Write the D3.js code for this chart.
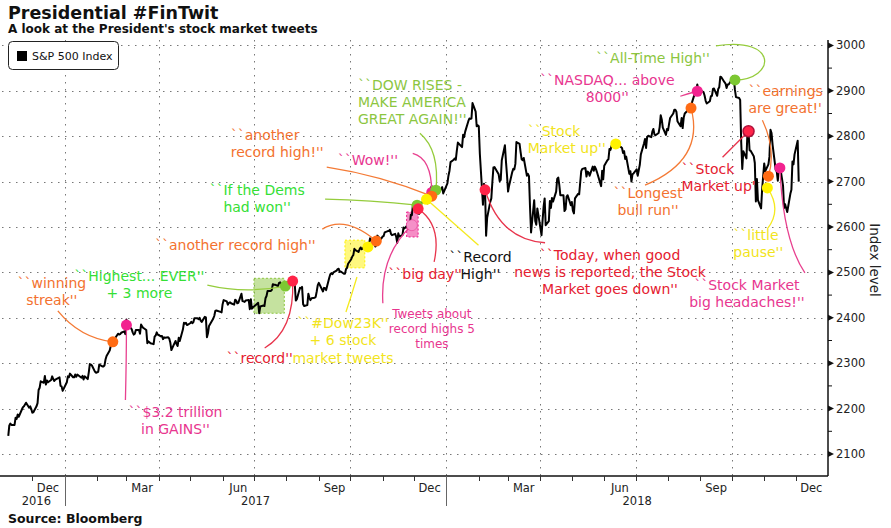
<!DOCTYPE html>
<html>
<head>
<meta charset="utf-8">
<script src="https://cdn.jsdelivr.net/npm/d3@7"></script>
<style>
  body { margin: 0; background: #fff; }
  svg { display: block; font-family: "DejaVu Sans", Verdana, sans-serif; }
  .grid line { stroke: #777; stroke-width: 1; stroke-dasharray: 1.5 5.5; }
  .tick-label { font-size: 11.5px; fill: #222; }
  .note { font-size: 14px; }
</style>
</head>
<body>
<svg id="chart" width="891" height="528"></svg>
<script>
// S&P 500 daily closes
const spxCloses = [
["2016-11-08",2140],["2016-11-09",2163],["2016-11-10",2167],["2016-11-11",2164],["2016-11-14",2164],["2016-11-15",2180],["2016-11-16",2177],["2016-11-17",2187],["2016-11-18",2182],
["2016-11-21",2198],["2016-11-22",2203],["2016-11-23",2205],["2016-11-25",2213],["2016-11-28",2202],["2016-11-29",2205],["2016-11-30",2199],["2016-12-01",2191],["2016-12-02",2192],
["2016-12-05",2205],["2016-12-06",2212],["2016-12-07",2241],["2016-12-08",2246],["2016-12-09",2260],["2016-12-12",2257],["2016-12-13",2272],["2016-12-14",2253],["2016-12-15",2262],
["2016-12-16",2258],["2016-12-19",2263],["2016-12-20",2271],["2016-12-21",2265],["2016-12-22",2261],["2016-12-23",2264],["2016-12-27",2269],["2016-12-28",2250],["2016-12-29",2249],
["2016-12-30",2239],["2017-01-03",2258],["2017-01-04",2271],["2017-01-05",2269],["2017-01-06",2277],["2017-01-09",2269],["2017-01-10",2269],["2017-01-11",2275],["2017-01-12",2270],
["2017-01-13",2275],["2017-01-17",2268],["2017-01-18",2272],["2017-01-19",2264],["2017-01-20",2271],["2017-01-23",2265],["2017-01-24",2280],["2017-01-25",2298],["2017-01-26",2297],
["2017-01-27",2295],["2017-01-30",2281],["2017-01-31",2279],["2017-02-01",2280],["2017-02-02",2281],["2017-02-03",2297],["2017-02-06",2293],["2017-02-07",2293],["2017-02-08",2295],
["2017-02-09",2308],["2017-02-10",2316],["2017-02-13",2328],["2017-02-14",2338],["2017-02-15",2349],["2017-02-16",2347],["2017-02-17",2351],["2017-02-21",2365],["2017-02-22",2363],
["2017-02-23",2364],["2017-02-24",2367],["2017-02-27",2370],["2017-02-28",2364],["2017-03-01",2396],["2017-03-02",2382],["2017-03-03",2383],["2017-03-06",2375],["2017-03-07",2368],
["2017-03-08",2363],["2017-03-09",2365],["2017-03-10",2373],["2017-03-13",2373],["2017-03-14",2365],["2017-03-15",2385],["2017-03-16",2381],["2017-03-17",2378],["2017-03-20",2373],
["2017-03-21",2344],["2017-03-22",2348],["2017-03-23",2346],["2017-03-24",2344],["2017-03-27",2342],["2017-03-28",2359],["2017-03-29",2361],["2017-03-30",2368],["2017-03-31",2363],
["2017-04-03",2359],["2017-04-04",2360],["2017-04-05",2353],["2017-04-06",2357],["2017-04-07",2356],["2017-04-10",2357],["2017-04-11",2354],["2017-04-12",2345],["2017-04-13",2329],
["2017-04-17",2349],["2017-04-18",2342],["2017-04-19",2338],["2017-04-20",2356],["2017-04-21",2349],["2017-04-24",2374],["2017-04-25",2389],["2017-04-26",2387],["2017-04-27",2389],
["2017-04-28",2384],["2017-05-01",2388],["2017-05-02",2391],["2017-05-03",2388],["2017-05-04",2390],["2017-05-05",2399],["2017-05-08",2399],["2017-05-09",2397],["2017-05-10",2400],
["2017-05-11",2394],["2017-05-12",2391],["2017-05-15",2402],["2017-05-16",2401],["2017-05-17",2357],["2017-05-18",2366],["2017-05-19",2382],["2017-05-22",2394],["2017-05-23",2398],
["2017-05-24",2404],["2017-05-25",2415],["2017-05-26",2416],["2017-05-30",2413],["2017-05-31",2412],["2017-06-01",2430],["2017-06-02",2439],["2017-06-05",2436],["2017-06-06",2429],
["2017-06-07",2433],["2017-06-08",2434],["2017-06-09",2432],["2017-06-12",2429],["2017-06-13",2440],["2017-06-14",2438],["2017-06-15",2432],["2017-06-16",2433],["2017-06-19",2453],
["2017-06-20",2437],["2017-06-21",2436],["2017-06-22",2435],["2017-06-23",2438],["2017-06-26",2439],["2017-06-27",2419],["2017-06-28",2441],["2017-06-29",2420],["2017-06-30",2423],
["2017-07-03",2429],["2017-07-05",2433],["2017-07-06",2410],["2017-07-07",2425],["2017-07-10",2427],["2017-07-11",2426],["2017-07-12",2443],["2017-07-13",2448],["2017-07-14",2459],
["2017-07-17",2459],["2017-07-18",2461],["2017-07-19",2474],["2017-07-20",2473],["2017-07-21",2473],["2017-07-24",2470],["2017-07-25",2477],["2017-07-26",2478],["2017-07-27",2475],
["2017-07-28",2472],["2017-07-31",2470],["2017-08-01",2476],["2017-08-02",2478],["2017-08-03",2472],["2017-08-04",2477],["2017-08-07",2481],["2017-08-08",2475],["2017-08-09",2474],
["2017-08-10",2438],["2017-08-11",2441],["2017-08-14",2466],["2017-08-15",2465],["2017-08-16",2468],["2017-08-17",2430],["2017-08-18",2426],["2017-08-21",2428],["2017-08-22",2453],
["2017-08-23",2444],["2017-08-24",2439],["2017-08-25",2443],["2017-08-28",2444],["2017-08-29",2446],["2017-08-30",2458],["2017-08-31",2472],["2017-09-01",2477],["2017-09-05",2458],
["2017-09-06",2466],["2017-09-07",2465],["2017-09-08",2461],["2017-09-11",2488],["2017-09-12",2496],["2017-09-13",2498],["2017-09-14",2496],["2017-09-15",2500],["2017-09-18",2504],
["2017-09-19",2507],["2017-09-20",2508],["2017-09-21",2501],["2017-09-22",2502],["2017-09-25",2497],["2017-09-26",2497],["2017-09-27",2507],["2017-09-28",2510],["2017-09-29",2519],
["2017-10-02",2529],["2017-10-03",2535],["2017-10-04",2538],["2017-10-05",2552],["2017-10-06",2549],["2017-10-09",2545],["2017-10-10",2551],["2017-10-11",2555],["2017-10-12",2551],
["2017-10-13",2553],["2017-10-16",2558],["2017-10-17",2559],["2017-10-18",2561],["2017-10-19",2562],["2017-10-20",2575],["2017-10-23",2565],["2017-10-24",2569],["2017-10-25",2557],
["2017-10-26",2560],["2017-10-27",2581],["2017-10-30",2573],["2017-10-31",2575],["2017-11-01",2579],["2017-11-02",2580],["2017-11-03",2588],["2017-11-06",2591],["2017-11-07",2591],
["2017-11-08",2594],["2017-11-09",2585],["2017-11-10",2582],["2017-11-13",2585],["2017-11-14",2579],["2017-11-15",2565],["2017-11-16",2586],["2017-11-17",2579],["2017-11-20",2582],
["2017-11-21",2599],["2017-11-22",2597],["2017-11-24",2602],["2017-11-27",2601],["2017-11-28",2627],["2017-11-29",2626],["2017-11-30",2648],["2017-12-01",2642],["2017-12-04",2639],
["2017-12-05",2630],["2017-12-06",2629],["2017-12-07",2637],["2017-12-08",2652],["2017-12-11",2660],["2017-12-12",2664],["2017-12-13",2663],["2017-12-14",2652],["2017-12-15",2676],
["2017-12-18",2690],["2017-12-19",2681],["2017-12-20",2679],["2017-12-21",2685],["2017-12-22",2683],["2017-12-26",2681],["2017-12-27",2683],["2017-12-28",2688],["2017-12-29",2674],
["2018-01-02",2696],["2018-01-03",2713],["2018-01-04",2724],["2018-01-05",2743],["2018-01-08",2748],["2018-01-09",2751],["2018-01-10",2748],["2018-01-11",2768],["2018-01-12",2786],
["2018-01-16",2776],["2018-01-17",2803],["2018-01-18",2798],["2018-01-19",2810],["2018-01-22",2833],["2018-01-23",2839],["2018-01-24",2838],["2018-01-25",2839],["2018-01-26",2873],
["2018-01-29",2854],["2018-01-30",2822],["2018-01-31",2824],["2018-02-01",2822],["2018-02-02",2762],["2018-02-05",2649],["2018-02-06",2695],["2018-02-07",2682],["2018-02-08",2581],
["2018-02-09",2620],["2018-02-12",2656],["2018-02-13",2663],["2018-02-14",2699],["2018-02-15",2731],["2018-02-16",2732],["2018-02-20",2716],["2018-02-21",2701],["2018-02-22",2704],
["2018-02-23",2747],["2018-02-26",2780],["2018-02-27",2744],["2018-02-28",2714],["2018-03-01",2678],["2018-03-02",2691],["2018-03-05",2721],["2018-03-06",2728],["2018-03-07",2727],
["2018-03-08",2739],["2018-03-09",2787],["2018-03-12",2783],["2018-03-13",2765],["2018-03-14",2749],["2018-03-15",2747],["2018-03-16",2752],["2018-03-19",2713],["2018-03-20",2717],
["2018-03-21",2712],["2018-03-22",2644],["2018-03-23",2588],["2018-03-26",2659],["2018-03-27",2613],["2018-03-28",2605],["2018-03-29",2641],["2018-04-02",2582],["2018-04-03",2614],
["2018-04-04",2645],["2018-04-05",2663],["2018-04-06",2604],["2018-04-09",2613],["2018-04-10",2657],["2018-04-11",2642],["2018-04-12",2664],["2018-04-13",2656],["2018-04-16",2678],
["2018-04-17",2706],["2018-04-18",2709],["2018-04-19",2693],["2018-04-20",2670],["2018-04-23",2670],["2018-04-24",2635],["2018-04-25",2639],["2018-04-26",2667],["2018-04-27",2670],
["2018-04-30",2648],["2018-05-01",2655],["2018-05-02",2636],["2018-05-03",2630],["2018-05-04",2663],["2018-05-07",2673],["2018-05-08",2672],["2018-05-09",2698],["2018-05-10",2723],
["2018-05-11",2728],["2018-05-14",2730],["2018-05-15",2711],["2018-05-16",2722],["2018-05-17",2720],["2018-05-18",2713],["2018-05-21",2733],["2018-05-22",2724],["2018-05-23",2733],
["2018-05-24",2728],["2018-05-25",2721],["2018-05-29",2690],["2018-05-30",2724],["2018-05-31",2705],["2018-06-01",2735],["2018-06-04",2747],["2018-06-05",2749],["2018-06-06",2772],
["2018-06-07",2770],["2018-06-08",2779],["2018-06-11",2782],["2018-06-12",2787],["2018-06-13",2776],["2018-06-14",2782],["2018-06-15",2780],["2018-06-18",2774],["2018-06-19",2763],
["2018-06-20",2767],["2018-06-21",2750],["2018-06-22",2755],["2018-06-25",2717],["2018-06-26",2723],["2018-06-27",2700],["2018-06-28",2716],["2018-06-29",2718],["2018-07-02",2727],
["2018-07-03",2713],["2018-07-05",2737],["2018-07-06",2760],["2018-07-09",2784],["2018-07-10",2794],["2018-07-11",2774],["2018-07-12",2798],["2018-07-13",2801],["2018-07-16",2798],
["2018-07-17",2810],["2018-07-18",2816],["2018-07-19",2804],["2018-07-20",2802],["2018-07-23",2807],["2018-07-24",2820],["2018-07-25",2846],["2018-07-26",2837],["2018-07-27",2819],
["2018-07-30",2803],["2018-07-31",2816],["2018-08-01",2813],["2018-08-02",2827],["2018-08-03",2840],["2018-08-06",2850],["2018-08-07",2858],["2018-08-08",2858],["2018-08-09",2854],
["2018-08-10",2833],["2018-08-13",2822],["2018-08-14",2840],["2018-08-15",2818],["2018-08-16",2841],["2018-08-17",2850],["2018-08-20",2857],["2018-08-21",2863],["2018-08-22",2862],
["2018-08-23",2857],["2018-08-24",2875],["2018-08-27",2897],["2018-08-28",2898],["2018-08-29",2914],["2018-08-30",2901],["2018-08-31",2902],["2018-09-04",2897],["2018-09-05",2889],
["2018-09-06",2878],["2018-09-07",2872],["2018-09-10",2877],["2018-09-11",2888],["2018-09-12",2889],["2018-09-13",2904],["2018-09-14",2905],["2018-09-17",2889],["2018-09-18",2904],
["2018-09-19",2908],["2018-09-20",2931],["2018-09-21",2930],["2018-09-24",2919],["2018-09-25",2916],["2018-09-26",2906],["2018-09-27",2914],["2018-09-28",2914],["2018-10-01",2925],
["2018-10-02",2923],["2018-10-03",2926],["2018-10-04",2902],["2018-10-05",2886],["2018-10-08",2884],["2018-10-09",2880],["2018-10-10",2786],["2018-10-11",2728],["2018-10-12",2767],
["2018-10-15",2751],["2018-10-16",2810],["2018-10-17",2809],["2018-10-18",2769],["2018-10-19",2768],["2018-10-22",2756],["2018-10-23",2741],["2018-10-24",2656],["2018-10-25",2706],
["2018-10-26",2659],["2018-10-29",2641],["2018-10-30",2683],["2018-10-31",2712],["2018-11-01",2740],["2018-11-02",2723],["2018-11-05",2738],["2018-11-06",2755],["2018-11-07",2814],
["2018-11-08",2807],["2018-11-09",2781],["2018-11-12",2726],["2018-11-13",2722],["2018-11-14",2702],["2018-11-15",2730],["2018-11-16",2736],["2018-11-19",2691],["2018-11-20",2642],
["2018-11-21",2650],["2018-11-23",2633],["2018-11-26",2673],["2018-11-27",2682],["2018-11-28",2744],["2018-11-29",2738],["2018-11-30",2760],["2018-12-03",2790],["2018-12-04",2700]
];

const yTicks = [2100, 2200, 2300, 2400, 2500, 2600, 2700, 2800, 2900, 3000];
const monthLabels = ["Dec", "Mar", "Jun", "Sep", "Dec", "Mar", "Jun", "Sep", "Dec"];
const monthLabelDates = ["2016-12-16", "2017-03-16", "2017-06-16", "2017-09-16", "2017-12-16", "2018-03-16", "2018-06-16", "2018-09-16", "2018-12-16"];
const yearLabels = ["2016", "2017", "2018"];
const yearSpans = [["2016-11-02", "2017-01-01"], ["2017-01-01", "2018-01-01"], ["2018-01-01", "2019-01-01"]];

// tweets: date of the dot, index level of the dot, label
const tweetDates = ["2017-02-16", "2017-03-01", "2017-07-31", "2017-08-07", "2017-10-18", "2017-10-26", "2017-11-29",
  "2017-12-04", "2017-12-18", "2017-12-18", "2017-12-22", "2017-12-13", "2017-12-05", "2018-02-07", "2018-06-12",
  "2018-08-23", "2018-08-29", "2018-10-04", "2018-10-17", "2018-11-05", "2018-11-04", "2018-11-16"];
const tweetLevels = [2347, 2384, 2470, 2481, 2556, 2569, 2604, 2648, 2676, 2668, 2681, 2661, 2640, 2682, 2783,
  2862, 2899, 2924, 2811, 2712, 2686, 2730];
const tweetTexts = [
  ["``winning", "streak''"],
  ["``$3.2 trillion", "in GAINS''"],
  ["``Highest... EVER''", "+ 3 more"],
  ["``record''"],
  ["``#Dow23K''", "+ 6 stock", "market tweets"],
  ["``another record high''"],
  ["Tweets about", "record highs 5", "times"],
  ["``If the Dems", "had won''"],
  ["``Wow!''"],
  ["``another", "record high!''"],
  ["``DOW RISES -", "MAKE AMERICA", "GREAT AGAIN!''"],
  ["``Record", "High''"],
  ["``big day''"],
  ["``Today, when good", "news is reported, the Stock", "Market goes down''"],
  ["``Stock", "Market up''"],
  ["``Longest", "bull run''"],
  ["``NASDAQ... above", "8000''"],
  ["``All-Time High''"],
  ["``Stock", "Market up'"],
  ["``earnings", "are great!'"],
  ["``little", "pause''"],
  ["``Stock Market", "big headaches!''"]
];

// highlighted tweet clusters: date span and level span
const clusterSpans = [["2017-07-01", "2017-07-30"], ["2017-09-26", "2017-10-15"], ["2017-11-24", "2017-12-05"]];
const clusterLevels = [[2410, 2487], [2510, 2571], [2578, 2633]];

// layout / styling of the annotations (offsets relative to the dot)
const palette = {
  orange: { dot: "#ff6b14", text: "#f3722f", lead: "#f47a35" },
  pink:   { dot: "#f2228f", text: "#e8368f", lead: "#e8408f" },
  green:  { dot: "#7dc832", text: "#35e035", lead: "#95cc3c" },
  lime:   { dot: "#7dc832", text: "#8cc63f", lead: "#95cc3c" },
  yellow: { dot: "#fff200", text: "#f2e41c", lead: "#f5ea1e" },
  red:    { dot: "#ff2448", text: "#e52030", lead: "#e8344c" },
  black:  { dot: "#fff200", text: "#111111", lead: "#f5ea1e" }
};
const noteLayout = [
  { c: "orange", dx: -61, dy: -54, a: "middle", lead: [-55, -31, -33, -4] },
  { c: "pink", dx: 49, dy: 92, a: "middle", lead: [-1, 75, 0, 35] },
  { c: "green", dx: -146, dy: -5, a: "middle", lead: [-78, -1, -40, 8] },
  { c: "red", dx: -33, dy: 82, a: "middle", lead: [-28, 67, 2, 49] },
  { c: "yellow", dx: -25, dy: 81, a: "middle", lh: 17.5, lead: [-22, 65, -16, 47, -11, 30] },
  { c: "orange", dx: -141, dy: 9, a: "middle", lead: [-54, -12, -31, -26] },
  { c: "pink", dx: 20, dy: 93, a: "middle", fs: 12, lh: 15, lead: [-29, 78, -32, 30] },
  { c: "green", dx: -160, dy: -10, a: "middle", lead: [-92, -6, -47, -5] },
  { c: "pink", dx: -94, dy: -27, a: "start", lead: [-19, -39, 0, -34] },
  { c: "orange", dx: -201, dy: -56, a: "start", lead: [-105, -29, -52, -21] },
  { c: "lime", dx: -78, dy: -100, a: "start", lead: [-16, -57, 4, -40] },
  { c: "black", dx: 54, dy: 63, a: "middle", lead: [52, 46, 26, 23] },
  { c: "red", dx: 7, dy: 70, a: "middle", lead: [16, 53, 24, 16] },
  { c: "red", dx: 125, dy: 70, a: "middle", lead: [60, 53, 15, 50] },
  { c: "yellow", dx: -88, dy: -8, a: "start", lead: null },
  { c: "orange", dx: -43, dy: 90, a: "middle", lead: [-46, 77, 14, 52] },
  { c: "pink", dx: -90, dy: -6, a: "middle", lead: [-17, 5, -8, 2] },
  { c: "lime", dx: -82, dy: -17, a: "middle", cubic: [-19, -34, 45, -44, 40, 0] },
  { c: "red", dx: -67, dy: 43, a: "start", ringed: true, lead: [-26, 26, -13, 13] },
  { c: "orange", dx: -20, dy: -80, a: "start", lead: [-6, -56, 8, -26] },
  { c: "yellow", dx: -34, dy: 52, a: "start", lead: [0, 41, 15, 22] },
  { c: "pink", dx: -33, dy: 122, a: "middle", lead: [25, 105, 3, 72] }
];
const dotOrder = [0, 1, 2, 3, 4, 5, 8, 10, 9, 11, 7, 12, 13, 14, 15, 16, 17, 18, 19, 20, 21];
const clusterColors = ["#8cc63f", "#fff200", "#ec1c8c"];

const svg = d3.select("#chart");
const parse = d3.timeParse("%Y-%m-%d");
const plotTop = 40, plotBottom = 476, plotLeft = 2, plotRight = 828;

const x = d3.scaleTime()
  .domain([parse("2016-11-02"), parse("2019-01-01")])
  .range([plotLeft, plotRight]);
const y = d3.scaleLinear().domain([2100, 3000]).range([454, 45.4]);

const series = spxCloses.map(d => ({ date: parse(d[0]), value: d[1] }));

// titles
svg.append("text").attr("x", 8).attr("y", 19)
  .style("font-weight", "bold").style("font-size", "17.5px").attr("fill", "#111")
  .text("Presidential #FinTwit");
svg.append("text").attr("x", 8).attr("y", 33)
  .style("font-weight", "bold").style("font-size", "12px").attr("fill", "#111")
  .text("A look at the President's stock market tweets");
svg.append("text").attr("x", 8).attr("y", 523)
  .style("font-weight", "bold").style("font-size", "12.5px").attr("fill", "#111")
  .text("Source: Bloomberg");

// grid
const grid = svg.append("g").attr("class", "grid");
grid.selectAll(".h").data(yTicks).enter().append("line")
  .attr("x1", plotLeft).attr("x2", plotRight)
  .attr("y1", d => Math.round(y(d)) + 0.5).attr("y2", d => Math.round(y(d)) + 0.5);
const quarterStarts = d3.timeMonth.every(3).range(parse("2017-01-01"), parse("2019-01-01"));
grid.selectAll(".v").data(quarterStarts).enter().append("line")
  .attr("y1", plotTop).attr("y2", plotBottom)
  .attr("x1", d => Math.round(x(d)) + 0.5).attr("x2", d => Math.round(x(d)) + 0.5);

// bottom axis
svg.append("line").attr("x1", 0).attr("x2", plotRight).attr("y1", plotBottom).attr("y2", plotBottom)
  .attr("stroke", "#111").attr("stroke-width", 1.5);
const months = d3.timeMonth.range(parse("2016-12-01"), parse("2019-01-01"));
svg.selectAll(".mtick").data(months).enter().append("line")
  .attr("x1", d => Math.round(x(d)) + 0.5).attr("x2", d => Math.round(x(d)) + 0.5)
  .attr("y1", plotBottom).attr("y2", plotBottom + 5)
  .attr("stroke", "#333").attr("stroke-width", 1);
svg.selectAll(".mlab").data(monthLabels).enter().append("text")
  .attr("class", "tick-label").attr("text-anchor", "middle")
  .attr("x", (d, i) => x(parse(monthLabelDates[i]))).attr("y", 492)
  .text(d => d);
svg.selectAll(".ysep").data(yearSpans.slice(1)).enter().append("line")
  .attr("x1", d => Math.round(x(parse(d[0]))) + 0.5).attr("x2", d => Math.round(x(parse(d[0]))) + 0.5)
  .attr("y1", plotBottom).attr("y2", 506).attr("stroke", "#666").attr("stroke-width", 1);
svg.selectAll(".ylab").data(yearLabels).enter().append("text")
  .attr("class", "tick-label").attr("text-anchor", "middle")
  .attr("x", (d, i) => (x(parse(yearSpans[i][0])) + x(parse(yearSpans[i][1]))) / 2 + (i === 0 ? 3 : 0))
  .attr("y", 505).text(d => d);

// right axis
svg.append("line").attr("x1", plotRight).attr("x2", plotRight).attr("y1", plotTop).attr("y2", plotBottom)
  .attr("stroke", "#111").attr("stroke-width", 1.5);
const minorTicks = d3.range(2150, 3000, 100);
svg.selectAll(".minor").data(minorTicks).enter().append("line")
  .attr("x1", plotRight).attr("x2", plotRight + 4)
  .attr("y1", d => y(d)).attr("y2", d => y(d)).attr("stroke", "#111");
svg.selectAll(".major").data(yTicks).enter().append("path")
  .attr("d", d => `M${plotRight},${y(d) - 3}L${plotRight + 6},${y(d)}L${plotRight},${y(d) + 3}Z`)
  .attr("fill", "#111");
svg.selectAll(".ylabel").data(yTicks).enter().append("text")
  .attr("class", "tick-label").attr("x", 836).attr("y", d => y(d) + 4).text(d => d);
svg.append("text").attr("transform", "translate(870,260) rotate(90)")
  .attr("text-anchor", "middle").style("font-size", "13.5px").attr("fill", "#222")
  .text("Index level");

// legend
svg.append("rect").attr("x", 8.5).attr("y", 41.5).attr("width", 110).attr("height", 28).attr("rx", 4)
  .attr("fill", "#fff").attr("stroke", "#222");
svg.append("rect").attr("x", 17).attr("y", 51).attr("width", 10).attr("height", 10).attr("fill", "#000");
svg.append("text").attr("x", 32).attr("y", 60).style("font-size", "11px").attr("fill", "#111")
  .text("S&P 500 Index");

// highlighted clusters
svg.selectAll(".cluster").data(clusterSpans).enter().append("rect")
  .attr("x", d => x(parse(d[0]))).attr("width", d => x(parse(d[1])) - x(parse(d[0])))
  .attr("y", (d, i) => y(clusterLevels[i][1]))
  .attr("height", (d, i) => y(clusterLevels[i][0]) - y(clusterLevels[i][1]))
  .attr("fill", (d, i) => clusterColors[i]).attr("fill-opacity", 0.5)
  .attr("stroke", (d, i) => clusterColors[i]).attr("stroke-dasharray", "2 2");

// index line
const line = d3.line().x(d => x(d.date)).y(d => y(d.value));
svg.append("path").datum(series).attr("d", line)
  .attr("fill", "none").attr("stroke", "#000").attr("stroke-width", 2).attr("stroke-linejoin", "round");

// tweet annotations
const notes = tweetDates.map((d, i) => ({
  px: x(parse(d)), py: y(tweetLevels[i]), lines: tweetTexts[i], lay: noteLayout[i]
}));

const leads = svg.append("g");
notes.forEach(n => {
  const L = n.lay, col = palette[L.c];
  let path = null;
  if (L.cubic) {
    const k = L.cubic;
    path = `M${n.px + k[0]},${n.py + k[1]}C${n.px + k[2]},${n.py + k[3]} ${n.px + k[4]},${n.py + k[5]} ${n.px},${n.py}`;
  } else if (L.lead) {
    const k = L.lead;
    const ex = k.length > 4 ? k[4] : 0, ey = k.length > 4 ? k[5] : 0;
    path = `M${n.px + k[0]},${n.py + k[1]}Q${n.px + k[2]},${n.py + k[3]} ${n.px + ex},${n.py + ey}`;
  }
  if (path) leads.append("path").attr("d", path).attr("fill", "none")
    .attr("stroke", col.lead).attr("stroke-width", 1.3);
});

const labels = svg.append("g");
notes.forEach(n => {
  const L = n.lay, col = palette[L.c];
  const lh = L.lh || 17;
  const t = labels.append("text").attr("class", "note")
    .attr("text-anchor", L.a).attr("fill", col.text)
    .style("font-size", (L.fs || 14) + "px");
  n.lines.forEach((s, j) => {
    t.append("tspan").attr("x", n.px + L.dx).attr("y", n.py + L.dy + j * lh).text(s);
  });
});

const dots = svg.append("g");
dotOrder.forEach(i => {
  const n = notes[i], col = palette[n.lay.c];
  dots.append("circle").attr("cx", n.px).attr("cy", n.py).attr("r", 5.5)
    .attr("fill", col.dot)
    .attr("stroke", n.lay.ringed ? "#b0103a" : "none").attr("stroke-width", 1.5);
});
// faint marker inside the pink cluster
const pinkNote = notes[6];
dots.append("circle").attr("cx", pinkNote.px).attr("cy", pinkNote.py).attr("r", 5.5)
  .attr("fill", "#f590c8").attr("stroke", "#e8368f").attr("stroke-opacity", 0.5);
</script>
</body>
</html>
